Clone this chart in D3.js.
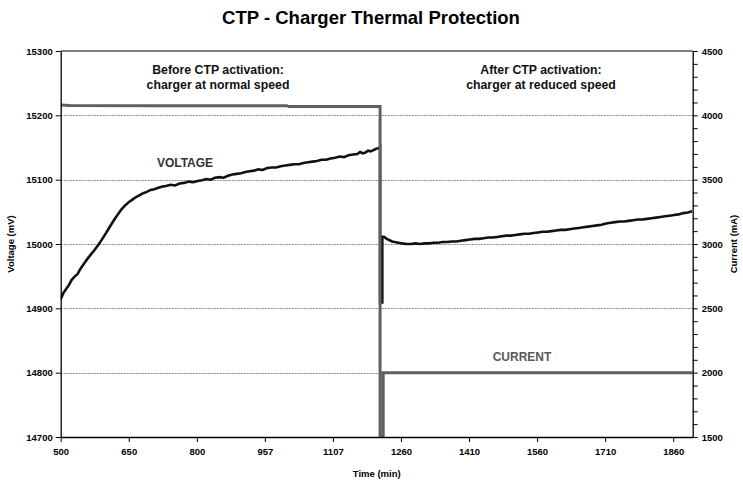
<!DOCTYPE html>
<html>
<head>
<meta charset="utf-8">
<script src="https://cdn.jsdelivr.net/npm/d3@7"></script>
<style>
  html, body { margin: 0; padding: 0; background: #fff; }
  svg text { font-family: "Liberation Sans", Arial, sans-serif; font-weight: bold; }
</style>
</head>
<body>
<svg id="chart" width="743" height="483"></svg>
<script>
// ---------- DATA ----------
const xTickLabels = [500, 650, 800, 957, 1107, 1260, 1410, 1560, 1710, 1860];
const xEnd = 1903;
const voltageTicks = [14700, 14800, 14900, 15000, 15100, 15200, 15300];
const currentTicks = [1500, 2000, 2500, 3000, 3500, 4000, 4500];

// Voltage (mV) vs time (min)
const voltageTime = [500,506,512,518,524,530,537,544,552,560,568,575,583,590,598,605,612,620,627,634,642,650,658,666,674,682,690,698,706,714,722,732,742,752,762,772,782,792,802,812,822,832,842,852,862,872,882,892,902,912,922,932,942,952,962,972,982,992,1002,1012,1022,1032,1042,1052,1062,1072,1082,1092,1102,1112,1122,1132,1142,1152,1162,1168,1174,1180,1186,1192,1198,1204,1210,1213,1213,1218,1218,
  1222,1228,1234,1240,1246,1254,1262,1272,1282,1292,1302,1312,1322,1332,1342,1352,1362,1372,1382,1392,1402,1412,1422,1432,1442,1452,1462,1472,1482,1492,1502,1512,1522,1532,1542,1552,1562,1572,1582,1592,1602,1612,1622,1632,1642,1652,1662,1672,1682,1692,1702,1712,1722,1732,1742,1752,1762,1772,1782,1792,1802,1812,1822,1832,1842,1852,1862,1872,1882,1892,1902];
const voltageValues = [14914,14924,14930,14936,14944,14949,14953,14962,14970,14978,14985,14991,14999,15006,15015,15023,15031,15040,15047,15054,15060,15065,15069,15073,15076,15079,15081,15084,15085,15087,15089,15090,15092,15091,15094,15095,15097,15096,15098,15099,15101,15100,15103,15104,15103,15106,15108,15109,15110,15112,15113,15114,15116,15115,15118,15119,15119,15121,15122,15123,15124,15124,15126,15127,15128,15129,15131,15131,15133,15134,15136,15135,15138,15139,15140,15143,15141,15142,15145,15144,15146,15148,15149,15151,14909,14909,15011,
  15011,15008,15006,15004,15003,15002,15001,15000,15000,15001,15000,15001,15001,15002,15002,15003,15003,15004,15004,15005,15006,15007,15008,15008,15009,15010,15010,15011,15012,15013,15013,15014,15015,15016,15016,15017,15018,15019,15019,15020,15021,15022,15022,15023,15024,15025,15026,15027,15028,15029,15030,15032,15033,15034,15035,15035,15036,15037,15038,15038,15039,15040,15041,15042,15043,15044,15045,15046,15048,15049,15051];

// Current (mA) vs time (min)
const currentTime = [500, 520, 700, 1005, 1010, 1213, 1213, 1220, 1220, 1903];
const currentValues = [4080, 4076, 4075, 4075, 4068, 4068, 1300, 1300, 2000, 2000];

// ---------- LAYOUT ----------
const W = 743, H = 483;
const L = 60.7, R = 692.7, T = 51, B = 437;

const svg = d3.select("#chart");

// polylinear x scale: labelled ticks are evenly spaced
const step = (R - L) / (xTickLabels.length - 1 + (xEnd - xTickLabels[xTickLabels.length - 1]) / 150);
const x = d3.scaleLinear()
  .domain(xTickLabels.concat([xEnd]))
  .range(xTickLabels.map((d, i) => L + i * step).concat([R]));
const yV = d3.scaleLinear().domain([14700, 15300]).range([B, T]);
const yC = d3.scaleLinear().domain([1500, 4500]).range([B, T]);

// gridlines
svg.append("g").selectAll("line")
  .data(voltageTicks.filter(d => d > 14700 && d < 15300))
  .join("line")
  .attr("x1", L).attr("x2", R)
  .attr("y1", d => Math.round(yV(d)) + 0.5).attr("y2", d => Math.round(yV(d)) + 0.5)
  .attr("stroke", "#8a8a8a").attr("stroke-width", 1).attr("stroke-dasharray", "2,1");

// top border
svg.append("line").attr("x1", L).attr("x2", R).attr("y1", T).attr("y2", T)
  .attr("stroke", "#808080").attr("stroke-width", 2);

// clip
svg.append("clipPath").attr("id", "clip").append("rect")
  .attr("x", L).attr("y", T).attr("width", R - L).attr("height", B - T);

// voltage line
const vData = voltageTime.map((t, i) => [t, voltageValues[i]]);
svg.append("path").datum(vData)
  .attr("clip-path", "url(#clip)")
  .attr("fill", "none").attr("stroke", "#111").attr("stroke-width", 2.6)
  .attr("stroke-linejoin", "miter")
  .attr("d", d3.line().x(d => x(d[0])).y(d => yV(d[1])));

// current line
const cData = currentTime.map((t, i) => [t, currentValues[i]]);
svg.append("path").datum(cData)
  .attr("clip-path", "url(#clip)")
  .attr("fill", "none").attr("stroke", "#606060").attr("stroke-width", 3)
  .attr("d", d3.line().x(d => x(d[0])).y(d => yC(d[1])));

// axes
const fmt = d3.format("d");
const axL = svg.append("g").attr("transform", `translate(${L},0)`)
  .call(d3.axisLeft(yV).tickValues(voltageTicks).tickSize(5).tickPadding(3).tickSizeOuter(0).tickFormat(fmt));
const axR = svg.append("g").attr("transform", `translate(${R},0)`)
  .call(d3.axisRight(yC).tickValues(d3.range(1500, 4501, 100)).tickSize(5).tickPadding(4).tickSizeOuter(0)
    .tickFormat(d => currentTicks.includes(d) ? fmt(d) : ""));
const axB = svg.append("g").attr("transform", `translate(0,${B})`)
  .call(d3.axisBottom(x).tickValues(xTickLabels).tickSize(5).tickPadding(6).tickSizeOuter(0).tickFormat(fmt));

[axL, axR, axB].forEach(g => {
  g.select(".domain").attr("stroke", "#000").attr("stroke-width", 1.3);
  g.selectAll(".tick line").attr("stroke", "#000").attr("stroke-width", 1);
  g.selectAll("text").attr("font-size", 9.5).attr("font-family", "Liberation Sans, Arial, sans-serif")
    .attr("font-weight", "bold").attr("fill", "#000");
});

// titles
svg.append("text").attr("x", 371).attr("y", 24).attr("text-anchor", "middle")
  .attr("font-size", 18.5).attr("fill", "#000").text("CTP - Charger Thermal Protection");
svg.append("text").attr("transform", `translate(14,${(T + B) / 2}) rotate(-90)`)
  .attr("text-anchor", "middle").attr("font-size", 9.5).text("Voltage (mV)");
svg.append("text").attr("transform", `translate(737,${(T + B) / 2}) rotate(-90)`)
  .attr("text-anchor", "middle").attr("font-size", 9.5).text("Current (mA)");
svg.append("text").attr("x", (L + R) / 2).attr("y", 477).attr("text-anchor", "middle")
  .attr("font-size", 9.5).text("Time (min)");

// annotations
const notes = [
  {x: 218, y: 73.5, t: "Before CTP activation:"},
  {x: 218, y: 89, t: "charger at normal speed"},
  {x: 541, y: 73.5, t: "After CTP activation:"},
  {x: 541, y: 89, t: "charger at reduced speed"}
];
svg.append("g").selectAll("text").data(notes).join("text")
  .attr("x", d => d.x).attr("y", d => d.y).attr("text-anchor", "middle")
  .attr("font-size", 12.3).attr("fill", "#111").text(d => d.t);

svg.append("text").attr("x", 185).attr("y", 166.5).attr("text-anchor", "middle")
  .attr("font-size", 12).attr("fill", "#333").text("VOLTAGE");
svg.append("text").attr("x", 522).attr("y", 360.5).attr("text-anchor", "middle")
  .attr("font-size", 12).attr("fill", "#595959").text("CURRENT");
</script>
</body>
</html>
